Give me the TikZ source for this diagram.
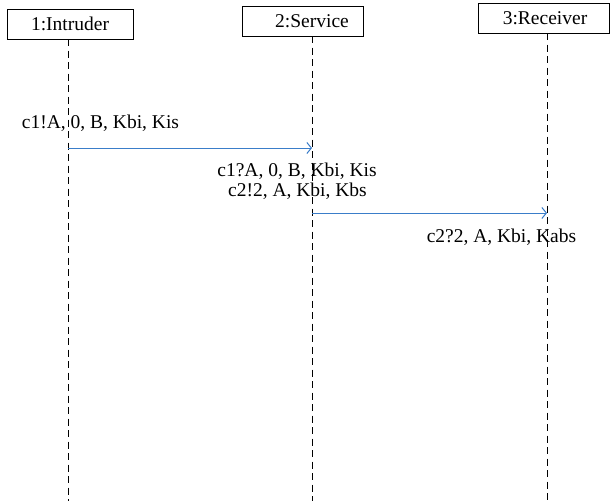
\documentclass[tikz,border=0pt]{standalone}
\usepackage{fontspec}
\setmainfont{Liberation Serif}
\usetikzlibrary{arrows.meta}
\definecolor{msgblue}{HTML}{3A7DC9}
\begin{document}
\begin{tikzpicture}[x=1pt,y=-1pt,
  txt/.style={font=\fontsize{19.5}{22}\selectfont},
  obj/.style={draw, line width=0.9pt, minimum height=30pt, inner sep=0pt, txt},
  life/.style={line width=1pt, dash pattern=on 7pt off 4.5pt},
  msg/.style={draw=msgblue, line width=1pt, -{Straight Barb[length=4.5pt,width=11pt,line width=1pt]}},
  lbl/.style={anchor=base, inner sep=0pt, txt}]
\useasboundingbox (0,0) rectangle (610,501);

% objects
\node[obj, minimum width=126pt] (b1) at (70,24) {1:Intruder};
\node[obj, minimum width=121pt] (b2) at (302.5,21.5) {\hspace*{19pt}2:Service};
\node[obj, minimum width=131pt] (b3) at (543.5,18) {\hspace*{3pt}3:Receiver};

% lifelines
\coordinate (t1) at (68,39);  \coordinate (e1) at (68,501);
\coordinate (t2) at (312,36); \coordinate (e2) at (312,501);
\coordinate (t3) at (547,33); \coordinate (e3) at (547,501);
\draw[life] (t1) -- (e1);
\draw[life] (t2) -- (e2);
\draw[life] (t3) -- (e3);

% messages
\coordinate (m1s) at (68,148);  \coordinate (m1e) at (312,148);
\coordinate (m2s) at (312,213); \coordinate (m2e) at (547,213);
\draw[msg] (m1s) -- (m1e);
\draw[msg] (m2s) -- (m2e);

% labels
\node[lbl] (l1) at (100.5,128) {c1!A, 0, B, Kbi, Kis};
\node[lbl] (l2) at (297,176) {c1?A, 0, B, Kbi, Kis};
\node[lbl] (l3) at (297.5,196) {c2!2, A, Kbi, Kbs};
\node[lbl] (l4) at (501.5,242) {c2?2, A, Kbi, Kabs};
\end{tikzpicture}
\end{document}
